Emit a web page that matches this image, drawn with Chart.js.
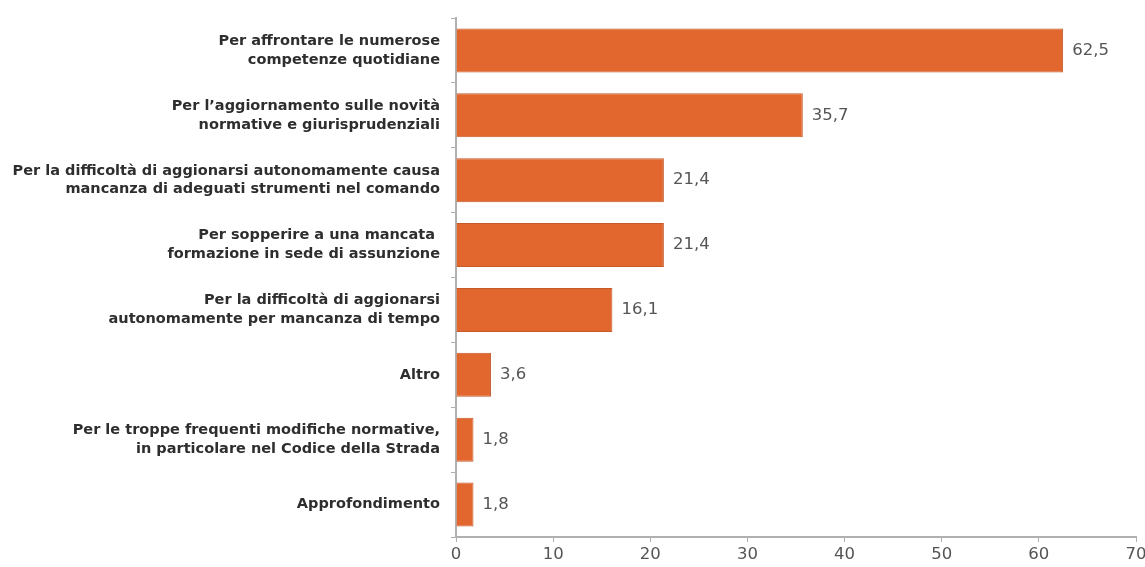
<!DOCTYPE html>
<html>
<head>
<meta charset="utf-8">
<script src="https://cdn.jsdelivr.net/npm/chart.js@4"></script>
<style>
  html, body { margin: 0; padding: 0; background: #fff; }
  #wrap { width: 1145px; height: 567px; position: relative; }
</style>
</head>
<body>
<div id="wrap"><canvas id="chart"></canvas></div>
<script>
// ---------- Data ----------
const categories = [
  ['Per affrontare le numerose', 'competenze quotidiane'],
  ['Per l\u2019aggiornamento sulle novità', 'normative e giurisprudenziali'],
  ['Per la difficoltà di aggionarsi autonomamente causa', 'mancanza di adeguati strumenti nel comando'],
  ['Per sopperire a una mancata ', 'formazione in sede di assunzione'],
  ['Per la difficoltà di aggionarsi', 'autonomamente per mancanza di tempo'],
  'Altro',
  ['Per le troppe frequenti modifiche normative,', 'in particolare nel Codice della Strada'],
  'Approfondimento'
];
const values = [62.5, 35.7, 21.4, 21.4, 16.1, 3.6, 1.8, 1.8];
const xTicks = [0, 10, 20, 30, 40, 50, 60, 70];

const FONT = '"DejaVu Sans", Verdana, sans-serif';

// ---------- Value labels at bar ends ----------
const valueLabels = {
  id: 'valueLabels',
  afterDatasetsDraw(chart) {
    const { ctx } = chart;
    const meta = chart.getDatasetMeta(0);
    ctx.save();
    ctx.font = '16.5px ' + FONT;
    ctx.fillStyle = '#555';
    ctx.textAlign = 'left';
    ctx.textBaseline = 'middle';
    meta.data.forEach((bar, i) => {
      const txt = values[i].toFixed(1).replace('.', ',');
      ctx.fillText(txt, bar.x + 9, bar.y);
    });
    ctx.restore();
  }
};

new Chart(document.getElementById('chart'), {
  type: 'bar',
  data: {
    labels: categories,
    datasets: [{
      data: values,
      backgroundColor: '#e2672f',
      borderColor: '#c4592a',
      borderWidth: 1,
      categoryPercentage: 1,
      barPercentage: 0.68
    }]
  },
  options: {
    indexAxis: 'y',
    responsive: true,
    maintainAspectRatio: false,
    animation: false,
    layout: { padding: { top: 18, right: 9, left: 0, bottom: 0 } },
    plugins: { legend: { display: false }, tooltip: { enabled: false } },
    scales: {
      x: {
        min: 0, max: 70,
        afterBuildTicks(scale) { scale.ticks = xTicks.map(v => ({ value: v })); },
        border: { color: '#b0b0b0', width: 2 },
        grid: { drawOnChartArea: false, color: '#b0b0b0', tickLength: 5 },
        ticks: {
          color: '#555',
          padding: 3,
          font: { family: FONT, size: 16.5 }
        },
        afterFit(scale) {
          scale.height = 30;
          scale.paddingLeft = 0;
          scale.paddingRight = 0;
        }
      },
      y: {
        offset: true,
        border: { color: '#b0b0b0', width: 2 },
        grid: { drawOnChartArea: false, offset: true, color: '#b0b0b0', tickLength: 5 },
        ticks: {
          color: '#2e2e2e',
          padding: 11,
          font: { family: FONT, size: 14.5, weight: 'bold', lineHeight: 1.3 }
        },
        afterFit(scale) {
          scale.width = 456;
          scale.paddingTop = 0;
          scale.paddingBottom = 0;
        }
      }
    }
  },
  plugins: [valueLabels]
});
</script>
</body>
</html>
